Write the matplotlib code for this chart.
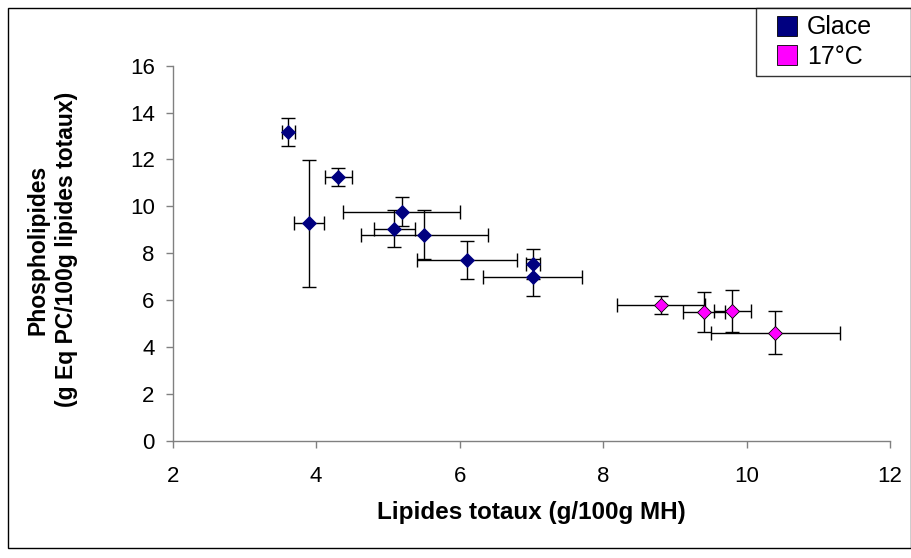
import matplotlib
matplotlib.use('Agg')
import matplotlib.pyplot as plt
from matplotlib.patches import Rectangle, Patch
from matplotlib.legend_handler import HandlerPatch

plt.rcParams['font.family'] = ['Liberation Sans', 'DejaVu Sans']

# ─── data ───
glace_x    = [3.61, 3.90, 4.31, 5.19, 5.09, 5.51, 6.10, 7.02, 7.02]
glace_y    = [13.16, 9.27, 11.26, 9.76, 9.04, 8.79, 7.70, 7.54, 6.97]
glace_xerr = [0.09, 0.21, 0.19, 0.81, 0.29, 0.89, 0.70, 0.10, 0.69]
glace_yerr = [0.60, 2.70, 0.39, 0.62, 0.79, 1.05, 0.80, 0.62, 0.80]

t17_x    = [8.81, 9.41, 9.80, 10.40]
t17_y    = [5.79, 5.48, 5.55, 4.61]
t17_xerr = [0.61, 0.29, 0.26, 0.90]
t17_yerr = [0.40, 0.86, 0.90, 0.91]

series_names = ['Glace', '17°C']
series_colors = ['#000080', '#FF00FF']

x_ticks = [2, 4, 6, 8, 10, 12]
y_ticks = [0, 2, 4, 6, 8, 10, 12, 14, 16]

W, H = 912, 558
fig = plt.figure(figsize=(W / 100, H / 100), dpi=100)
ax = fig.add_axes([172.7 / W, 1 - 440.7 / H, (890 - 172.7) / W, 375 / H])

for xs, ys, xe, ye, col in [(glace_x, glace_y, glace_xerr, glace_yerr, series_colors[0]),
                            (t17_x, t17_y, t17_xerr, t17_yerr, series_colors[1])]:
    ax.errorbar(xs, ys, xerr=xe, yerr=ye, fmt='none', ecolor='black',
                elinewidth=1.0, capsize=4.7, capthick=1.0, zorder=2)
    ax.plot(xs, ys, 'D', ms=6.8, mfc=col,
            mec='black' if col == '#FF00FF' else col, mew=0.6, zorder=3)

ax.set_xlim(2, 12)
ax.set_ylim(0, 16)
ax.set_xticks(x_ticks)
ax.set_yticks(y_ticks)
for s in ['top', 'right']:
    ax.spines[s].set_visible(False)
for s in ['left', 'bottom']:
    ax.spines[s].set_color('#808080')
    ax.spines[s].set_linewidth(1.0)
ax.tick_params(axis='both', direction='out', length=5, width=1.0,
               color='#808080', labelsize=16)
ax.tick_params(axis='x', pad=13)
ax.tick_params(axis='y', pad=8)

ax.set_xlabel('Lipides totaux (g/100g MH)', fontsize=17.5, fontweight='bold')
ax.xaxis.set_label_coords(0.5, (440.7 - 513) / 375)
ax.xaxis.label.set_va('center')
ax.set_ylabel('Phospholipides\n(g Eq PC/100g lipides totaux)', fontsize=16.5,
              fontweight='bold', linespacing=1.3)
ax.yaxis.set_label_coords((52.5 - 172.7) / 717.3, 0.51)
ax.yaxis.label.set_va('center')

# figure frame
fig.patches.append(Rectangle((8 / W, 1 - 548 / H), (911 - 8) / W, (548 - 8) / H,
                             transform=fig.transFigure, fill=False,
                             edgecolor='black', linewidth=1.0))


# legend square sits at the right end of a wider handle box
def square_patch(legend, orig_handle, xdescent, ydescent, width, height, fontsize):
    side = 14.4
    return Rectangle((-xdescent + width - side, -ydescent + (height - side) / 2), side, side)


handles = [Patch(facecolor=c, edgecolor='black', linewidth=0.6) for c in series_colors]
leg = fig.legend(handles, series_names, loc='upper left', mode='expand',
                 bbox_to_anchor=(756 / W, 1 - 80 / H, (911 - 756) / W, 72 / H),
                 fontsize=18, frameon=True, fancybox=False, edgecolor='black',
                 handlelength=1.34, handleheight=0.8, handletextpad=0.4,
                 borderpad=0.3, labelspacing=0.21, borderaxespad=0,
                 handler_map={Patch: HandlerPatch(patch_func=square_patch)})
leg.get_frame().set_linewidth(1.0)

fig.savefig('out.png', dpi=100)
